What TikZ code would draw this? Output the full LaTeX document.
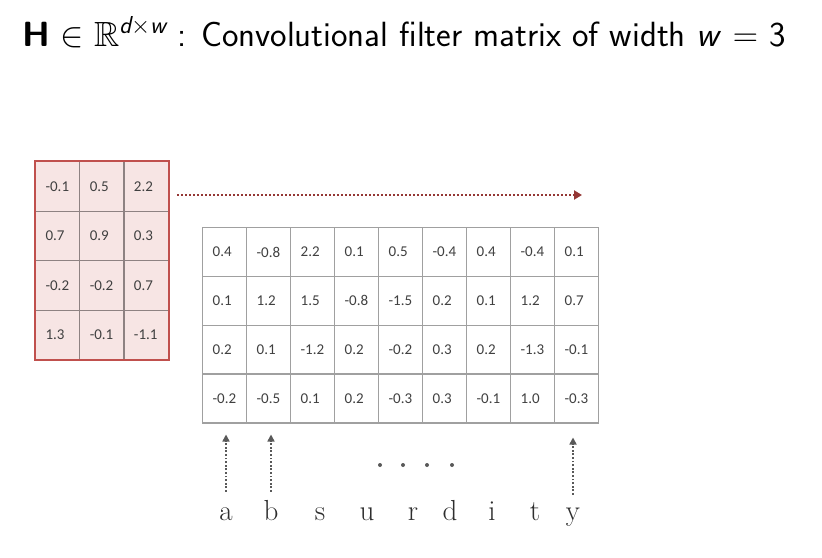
\RequirePackage{fix-cm}
\documentclass[tikz,border=0pt]{standalone}
\usepackage{fontspec}
\usepackage{amsmath,amssymb}
\DeclareFontFamily{U}{msb}{}
\DeclareFontShape{U}{msb}{m}{n}{<-6>msbm5<6-8>msbm7<8->msbm10}{}
\newfontfamily\cellfont{Carlito}
\usetikzlibrary{arrows.meta}
\definecolor{gridgray}{HTML}{A0A0A0}
\definecolor{filtergrid}{HTML}{8E8282}
\definecolor{filterfill}{HTML}{F7E5E4}
\definecolor{filterborder}{HTML}{C0504D}
\definecolor{celltext}{HTML}{404040}
\definecolor{hotarrow}{HTML}{953735}
\definecolor{upgray}{HTML}{595959}
\definecolor{lettercolor}{HTML}{2E2E2E}
\begin{document}
\begin{tikzpicture}[x=1pt,y=-1pt,
  cell/.style={draw=gridgray, line width=1.3pt, fill=white, anchor=north west,
    minimum height=48.8pt, text width=24pt, inner xsep=10pt, inner ysep=0pt,
    align=left, font=\cellfont\fontsize{15}{18}\selectfont, text=celltext},
  fcell/.style={cell, draw=filtergrid, line width=1.1pt, fill=filterfill,
    minimum height=49.5pt, text width=24.2pt},
  letter/.style={anchor=base, inner sep=0pt, text height=20pt,
    font=\fontsize{29}{34}\selectfont, text=lettercolor},
  dotmark/.style={circle, fill=upgray, inner sep=0pt, minimum size=4pt},
  hotline/.style={draw=hotarrow, line width=2pt, dash pattern=on 2pt off 2pt,
    -{Triangle[length=8pt,width=9pt]}},
  uparrow/.style={draw=upgray, line width=1.6pt, dash pattern=on 1.8pt off 1.8pt,
    -{Triangle[length=7pt,width=7pt]}}]
\useasboundingbox (0,0) rectangle (822,557);

% title
\node[anchor=base west, inner sep=0pt, font=\sffamily\fontsize{35}{42}\selectfont] (title) at (22,46)
  {\textbf{H} $\in \mathbb{R}^{\textit{d}\times\textit{w}}$ : Convolutional filter matrix of width \textit{w} $=$ 3};

% filter matrix
\foreach \row [count=\r] in {{-0.1,0.5,2.2},{0.7,0.9,0.3},{-0.2,-0.2,0.7},{1.3,-0.1,-1.1}}{
  \foreach \v [count=\c] in \row {
    \node[fcell] (f\r\c) at ({35+44.2*(\c-1)},{161+49.5*(\r-1)}) {\v};
  }
}
\draw[draw=filterborder, line width=2.4pt] (f11.north west) rectangle (f43.south east);

% input matrix
\foreach \row [count=\r] in {{0.4,-0.8,2.2,0.1,0.5,-0.4,0.4,-0.4,0.1},
                            {0.1,1.2,1.5,-0.8,-1.5,0.2,0.1,1.2,0.7},
                            {0.2,0.1,-1.2,0.2,-0.2,0.3,0.2,-1.3,-0.1},
                            {-0.2,-0.5,0.1,0.2,-0.3,0.3,-0.1,1.0,-0.3}}{
  \foreach \v [count=\c] in \row {
    \node[cell] (m\r\c) at ({202+44*(\c-1)},{227+48.8*(\r-1)}) {\v};
  }
}

% sliding arrow
\coordinate (hs) at (177,195);
\coordinate (he) at (582,195);
\draw[hotline] (hs) -- (he);

% letters
\foreach \l/\x in {a/226,b/271,s/320,u/367,r/413,d/450,i/492,t/535,y/573}{
  \node[letter] (l\l) at (\x,520) {\l};
}

% dots
\foreach \x [count=\i] in {380,403,427,452}{
  \node[dotmark] (dot\i) at (\x,465) {};
}

% up arrows
\path (la.north |- m41.south) coordinate (ta);
\path (lb.north |- m42.south) coordinate (tb);
\path (ly.north |- m49.south) coordinate (ty);
\draw[uparrow] ([yshift=8pt]la.north) -- ([yshift=-11pt]ta);
\draw[uparrow] ([yshift=8pt]lb.north) -- ([yshift=-11pt]tb);
\draw[uparrow] ([yshift=5pt]ly.north) -- ([yshift=-14pt]ty);
\end{tikzpicture}
\end{document}
